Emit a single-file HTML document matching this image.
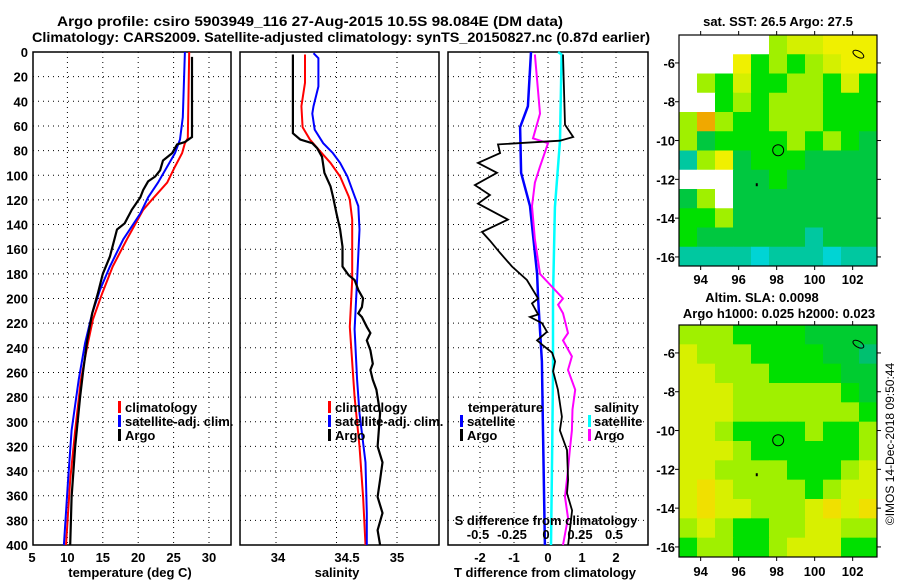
<!DOCTYPE html>
<html><head><meta charset="utf-8">
<style>
html,body{margin:0;padding:0;background:#fff;}
svg{display:block;}
text{font-family:"Liberation Sans",Arial,sans-serif;font-weight:bold;fill:#000;}
</style></head>
<body>
<svg id="fig" width="900" height="580" viewBox="0 0 900 580" xmlns="http://www.w3.org/2000/svg">
<text x="57" y="26" font-size="14" textLength="506" lengthAdjust="spacingAndGlyphs">Argo profile: csiro 5903949_116 27-Aug-2015 10.5S 98.084E (DM data)</text>
<text x="32" y="42" font-size="14" textLength="618" lengthAdjust="spacingAndGlyphs">Climatology: CARS2009. Satellite-adjusted climatology: synTS_20150827.nc (0.87d earlier)</text>
<g id="p1"></g>
<g id="p2"></g>
<g id="p3"></g>
<g id="m1"></g>
<g id="m2"></g>
<text x="778" y="26" font-size="13" text-anchor="middle">sat. SST: 26.5 Argo: 27.5</text>
<text x="762" y="302" font-size="13" text-anchor="middle">Altim. SLA: 0.0098</text>
<text x="779" y="318" font-size="13" text-anchor="middle">Argo h1000: 0.025 h2000: 0.023</text>
<text x="0" y="0" font-size="12" style="font-weight:normal" text-anchor="middle" transform="translate(894,444) rotate(-90)">©IMOS 14-Dec-2018 09:50:44</text>
</svg>
<script>
// ---- profile data (depth in m) ----
const depthArgoT=[4,69,73,75,82,88,96,101,105,112,118,128,139,144,166,180,196,212,234,260,280,320,361,400];
const argoT=[27.6,27.6,26.6,25.5,24.8,23.5,23.1,22.4,21.4,20.7,20.3,19.1,18.1,17.0,16.0,15.0,14.3,13.5,12.8,12.2,11.8,11.1,10.6,10.4];
const depthClimT=[0,70,74,82,93,106,120,128,152,174,196,217,239,266,307,347,400];
const climT=[27.2,27.0,26.6,26.2,25.2,24.1,21.9,20.7,18.4,16.4,14.9,13.6,12.8,11.9,11.1,10.4,9.8];
const depthSatT=[0,53,71,82,93,106,118,131,152,174,193,212,236,266,307,347,400];
const satT=[26.6,26.3,25.9,25.2,24.1,22.8,21.4,20.3,17.9,16.0,14.6,13.5,12.5,11.6,10.6,10.1,9.5];

const depthArgoS=[2,66,71,74,78,85,98,109,117,131,144,158,174,181,185,193,200,207,212,215,223,228,234,242,253,258,266,274,293,320,333,347,361,374,388,400];
const argoS=[34.14,34.14,34.20,34.30,34.34,34.38,34.40,34.45,34.47,34.50,34.53,34.55,34.55,34.60,34.65,34.68,34.72,34.71,34.68,34.71,34.75,34.78,34.75,34.78,34.80,34.78,34.80,34.83,34.86,34.84,34.88,34.86,34.84,34.88,34.84,34.86];
const depthClimS=[2,25,44,61,71,80,90,101,117,120,136,185,223,266,280,320,361,400];
const climS=[34.24,34.24,34.21,34.22,34.28,34.36,34.45,34.53,34.60,34.61,34.63,34.63,34.61,34.64,34.65,34.69,34.72,34.74];
const depthSatS=[1,5,28,44,50,63,74,82,90,101,117,125,144,185,225,266,293,333,374,400];
const satS=[34.31,34.35,34.35,34.31,34.30,34.32,34.39,34.47,34.53,34.59,34.65,34.68,34.69,34.67,34.65,34.67,34.69,34.74,34.75,34.75];

const depthArgoDT=[2,59,69,72,75,82,90,98,108,116,123,136,146,153,163,174,185,200,204,213,215,220,227,234,238,244,251,259,274,296,307,323,347,358,372,400];
const argoDT=[0.44,0.5,0.74,0.35,-1.47,-1.41,-2.06,-1.5,-2.15,-1.71,-2.06,-1.18,-1.94,-1.71,-1.41,-1.06,-0.62,-0.29,-0.47,-0.29,-0.53,-0.18,-0.03,-0.32,-0.15,0.12,0.21,0.15,0.29,0.41,0.35,0.56,0.59,0.56,0.71,0.59];
const depthSatDT=[0,44,61,98,125,180,200,251,303,400];
const satDT=[-0.5,-0.59,-0.82,-0.79,-0.53,-0.32,-0.29,-0.18,-0.15,-0.09];
const depthArgoDS=[2,50,70,74,93,106,125,152,180,200,205,212,228,234,247,258,274,290,307,323,339,361,378,400];
const argoDS=[-0.096,-0.059,-0.11,0,-0.059,-0.096,-0.118,-0.096,-0.059,0.11,0.074,0.11,0.147,0.11,0.176,0.147,0.2,0.18,0.176,0.16,0.147,0.125,0.147,0.11];
const depthSatDS=[0,2,72,126,200,260,328,400];
const satDS=[0.074,0.10,0.088,0.051,0.037,0.037,0.03,0.022];

const depthTicks=[0,20,40,60,80,100,120,140,160,180,200,220,240,260,280,300,320,340,360,380,400];
const tempTicks=[5,10,15,20,25,30];
const salTicks=[34,34.5,35];
const dTTicks=[-2,-1,0,1,2];
const dSTicks=[-0.5,-0.25,0,0.25,0.5];
const dSTickLabels=["-0.5","-0.25","0","0.25","0.5"];

// ---- map data (rows N->S, cols W->E) ----
const sstGrid=["WWWWWLyyYYY","WWWYGLGLyYY","WLGyGGLLGyG","WWGLGLLLGGG","LOLGGLLLGGG","LgGGGGLGLGg","CLYgGGGgggg","WWWggGggggg","gLWgggggggg","GGLgggggggg","GggggggCggg","CCCCcCCCcCC"];
const slaGrid=["LLLGGGGgggg","yLLLGGGGggC","yyLLLGGGGgg","yyyLLLLLLGg","yyyLLLLLLLG","yyLGGGGLGGL","yyyLGGGGGGL","yyLLLLGGGLy","yOyLLLLGLyy","yOyyLLLyOyO","LyLGGLLyyLL","GLLGGLyyyGG"];
const lonTicks=[94,96,98,100,102];
const latTicks=[-6,-8,-10,-12,-14,-16];
const argoLon=98.08, argoLat=-10.5;

const NS="http://www.w3.org/2000/svg";
function mk(parent,tag,attrs){const e=document.createElementNS(NS,tag);for(const k in attrs)e.setAttribute(k,attrs[k]);parent.appendChild(e);return e;}
const yD=d=>52+d*1.2325;
const TOP=52,BOT=545;
const xT=v=>32+(v-5)*7.08;
const xS=v=>276+(v-34)*121;
const xdT=v=>548+v*34;
const xdS=v=>548+v*136;

function panelFrame(g,x0,x1,gridXs){
  for(const d of depthTicks){ if(d===0||d===400)continue;
    const l=mk(g,'line',{x1:x0,x2:x1,y1:yD(d),y2:yD(d),stroke:'#000','stroke-width':1,'stroke-dasharray':'1,4'});
    
    
  }
  for(const x of gridXs){
    const l=mk(g,'line',{x1:x,x2:x,y1:TOP,y2:BOT,stroke:'#000','stroke-width':1,'stroke-dasharray':'1,4'});
    
    
  }
  const r=mk(g,'rect',{x:x0,y:TOP,width:x1-x0,height:BOT-TOP,fill:'none',stroke:'#000','stroke-width':1.5});
  
  
}
function profile(g,depths,vals,sx,color,w,name){
  const pts=depths.map((d,i)=>sx(vals[i]).toFixed(1)+','+yD(d).toFixed(1)).join(' ');
  const p=mk(g,'polyline',{points:pts,fill:'none',stroke:color,'stroke-width':w,'stroke-linejoin':'miter'});
  
  
}
function txt(g,x,y,s,size,anchor,name){
  const t=mk(g,'text',{x:x,y:y,'font-size':size,'text-anchor':anchor||'start'});
  t.textContent=s;
  
  
  return t;
}
function legBar(g,x,y,color,name){
  const r=mk(g,'rect',{x:x,y:y,width:3,height:12,fill:color});
  
  
}

// Panel 1
const p1=document.getElementById('p1');
panelFrame(p1,33,231,tempTicks.filter(v=>v>5).map(xT));
for(const d of depthTicks){ txt(p1,28,yD(d)+5,String(d),13,'end','depth-tick-label'); }
for(const v of tempTicks){ txt(p1,xT(v),562,String(v),13,'middle','temperature-tick-label'); }
txt(p1,130,577,'temperature (deg C)',13,'middle','x-axis-title-temperature');
profile(p1,depthClimT,climT,xT,'#f00',2,'climatology-temperature-line');
profile(p1,depthSatT,satT,xT,'#00f',2,'satellite-temperature-line');
profile(p1,depthArgoT,argoT,xT,'#000',2.2,'argo-temperature-line');
legBar(p1,118,401,'#f00','legend-bar-climatology');
txt(p1,125,412,'climatology',13,'start','legend-climatology');
legBar(p1,118,415,'#00f','legend-bar-satellite');
txt(p1,125,426,'satellite-adj. clim.',13,'start','legend-satellite-adj');
legBar(p1,118,429,'#000','legend-bar-argo');
txt(p1,125,440,'Argo',13,'start','legend-argo');

// Panel 2
const p2=document.getElementById('p2');
panelFrame(p2,240,439,salTicks.map(xS));
const salLabelX=[278,347,397];
salTicks.forEach((v,i)=>txt(p2,salLabelX[i],562,String(v),13,'middle','salinity-tick-label'));
txt(p2,337,577,'salinity',13,'middle','x-axis-title-salinity');
profile(p2,depthClimS,climS,xS,'#f00',2,'climatology-salinity-line');
profile(p2,depthSatS,satS,xS,'#00f',2,'satellite-salinity-line');
profile(p2,depthArgoS,argoS,xS,'#000',2.2,'argo-salinity-line');
legBar(p2,328,401,'#f00','legend-bar-climatology');
txt(p2,335,412,'climatology',13,'start','legend-climatology');
legBar(p2,328,415,'#00f','legend-bar-satellite');
txt(p2,335,426,'satellite-adj. clim.',13,'start','legend-satellite-adj');
legBar(p2,328,429,'#000','legend-bar-argo');
txt(p2,335,440,'Argo',13,'start','legend-argo');

// Panel 3
const p3=document.getElementById('p3');
panelFrame(p3,448,648,dTTicks.map(xdT));
dTTicks.forEach(v=>txt(p3,xdT(v),562,String(v),13,'middle','t-diff-tick-label'));
txt(p3,545,577,'T difference from climatology',13,'middle','x-axis-title-t-diff');
profile(p3,depthSatDT,satDT,xdT,'#00f',2.5,'satellite-t-diff-line');
profile(p3,depthSatDS,satDS,xdS,'#0ff',2.5,'satellite-s-diff-line');
profile(p3,depthArgoDS,argoDS,xdS,'#f0f',2,'argo-s-diff-line');
profile(p3,depthArgoDT,argoDT,xdT,'#000',1.8,'argo-t-diff-line');
txt(p3,546,525,'S difference from climatology',13,'middle','s-diff-axis-title');
dSTicks.forEach((v,i)=>txt(p3,xdS(v)-2,539,dSTickLabels[i],13,'middle','s-diff-tick-label'));
txt(p3,468,412,'temperature',13,'start','legend-temperature-heading');
legBar(p3,460,415,'#00f','legend-bar-t-satellite');
txt(p3,467,426,'satellite',13,'start','legend-t-satellite');
legBar(p3,460,429,'#000','legend-bar-t-argo');
txt(p3,467,440,'Argo',13,'start','legend-t-argo');
txt(p3,594,412,'salinity',13,'start','legend-salinity-heading');
legBar(p3,588,415,'#0ff','legend-bar-s-satellite');
txt(p3,594,426,'satellite',13,'start','legend-s-satellite');
legBar(p3,588,429,'#f0f','legend-bar-s-argo');
txt(p3,594,440,'Argo',13,'start','legend-s-argo');

// Maps
const sstColors={W:'#ffffff',Y:'#f0f000',y:'#d4f000',L:'#a0f000',G:'#00e000',g:'#00c840',C:'#00c8a0',c:'#00d4d4',O:'#f0a800'};
const slaColors={y:'#d8f000',O:'#f0e000',L:'#a0f000',G:'#00e000',g:'#00cc30',C:'#00c070'};
function drawMap(g,grid,colors,x0,y0,w,h,labelY){
  const lonX=lon=>x0+(lon-92.86)*19;
  const latY=lat=>y0+(-4.56-lat)*19.4;
  const rows=grid.length,cols=grid[0].length,cw=w/cols,ch=h/rows;
  grid.forEach((row,ri)=>{for(let ci=0;ci<cols;ci++){
    const r=mk(g,'rect',{x:(x0+ci*cw).toFixed(2),y:(y0+ri*ch).toFixed(2),width:(cw+0.5).toFixed(2),height:(ch+0.5).toFixed(2),fill:colors[row[ci]]});
    
    
  }});
  const c=mk(g,'circle',{cx:lonX(argoLon),cy:latY(argoLat),r:5.5,fill:'none',stroke:'#000','stroke-width':1});
  
  
  const e=mk(g,'ellipse',{cx:lonX(102.3),cy:latY(-5.55),rx:6,ry:3,fill:'none',stroke:'#000','stroke-width':1,transform:`rotate(30 ${lonX(102.3)} ${latY(-5.55)})`});
  
  
  const dot=mk(g,'rect',{x:lonX(96.9),y:latY(-12.2),width:2,height:3,fill:'#000'});
  
  
  const fr=mk(g,'rect',{x:x0,y:y0,width:w,height:h,fill:'none',stroke:'#000','stroke-width':1.2});
  
  
  for(const lon of lonTicks){
    const t1=mk(g,'line',{x1:lonX(lon),x2:lonX(lon),y1:y0,y2:y0-4,stroke:'#000'});
    
    
    const t2=mk(g,'line',{x1:lonX(lon),x2:lonX(lon),y1:y0+h,y2:y0+h+4,stroke:'#000'});
    
    
    txt(g,lonX(lon),labelY,String(lon),13,'middle','lon-tick-label');
  }
  for(const lat of latTicks){
    const t1=mk(g,'line',{x1:x0,x2:x0-4,y1:latY(lat),y2:latY(lat),stroke:'#000'});
    
    
    const t2=mk(g,'line',{x1:x0+w,x2:x0+w+4,y1:latY(lat),y2:latY(lat),stroke:'#000'});
    
    
    txt(g,x0-4,latY(lat)+5,String(lat),13,'end','lat-tick-label');
  }
}
drawMap(document.getElementById('m1'),sstGrid,sstColors,679,35,198,231,284);
drawMap(document.getElementById('m2'),slaGrid,slaColors,679,325,198,232,576);
</script>
</body></html>
